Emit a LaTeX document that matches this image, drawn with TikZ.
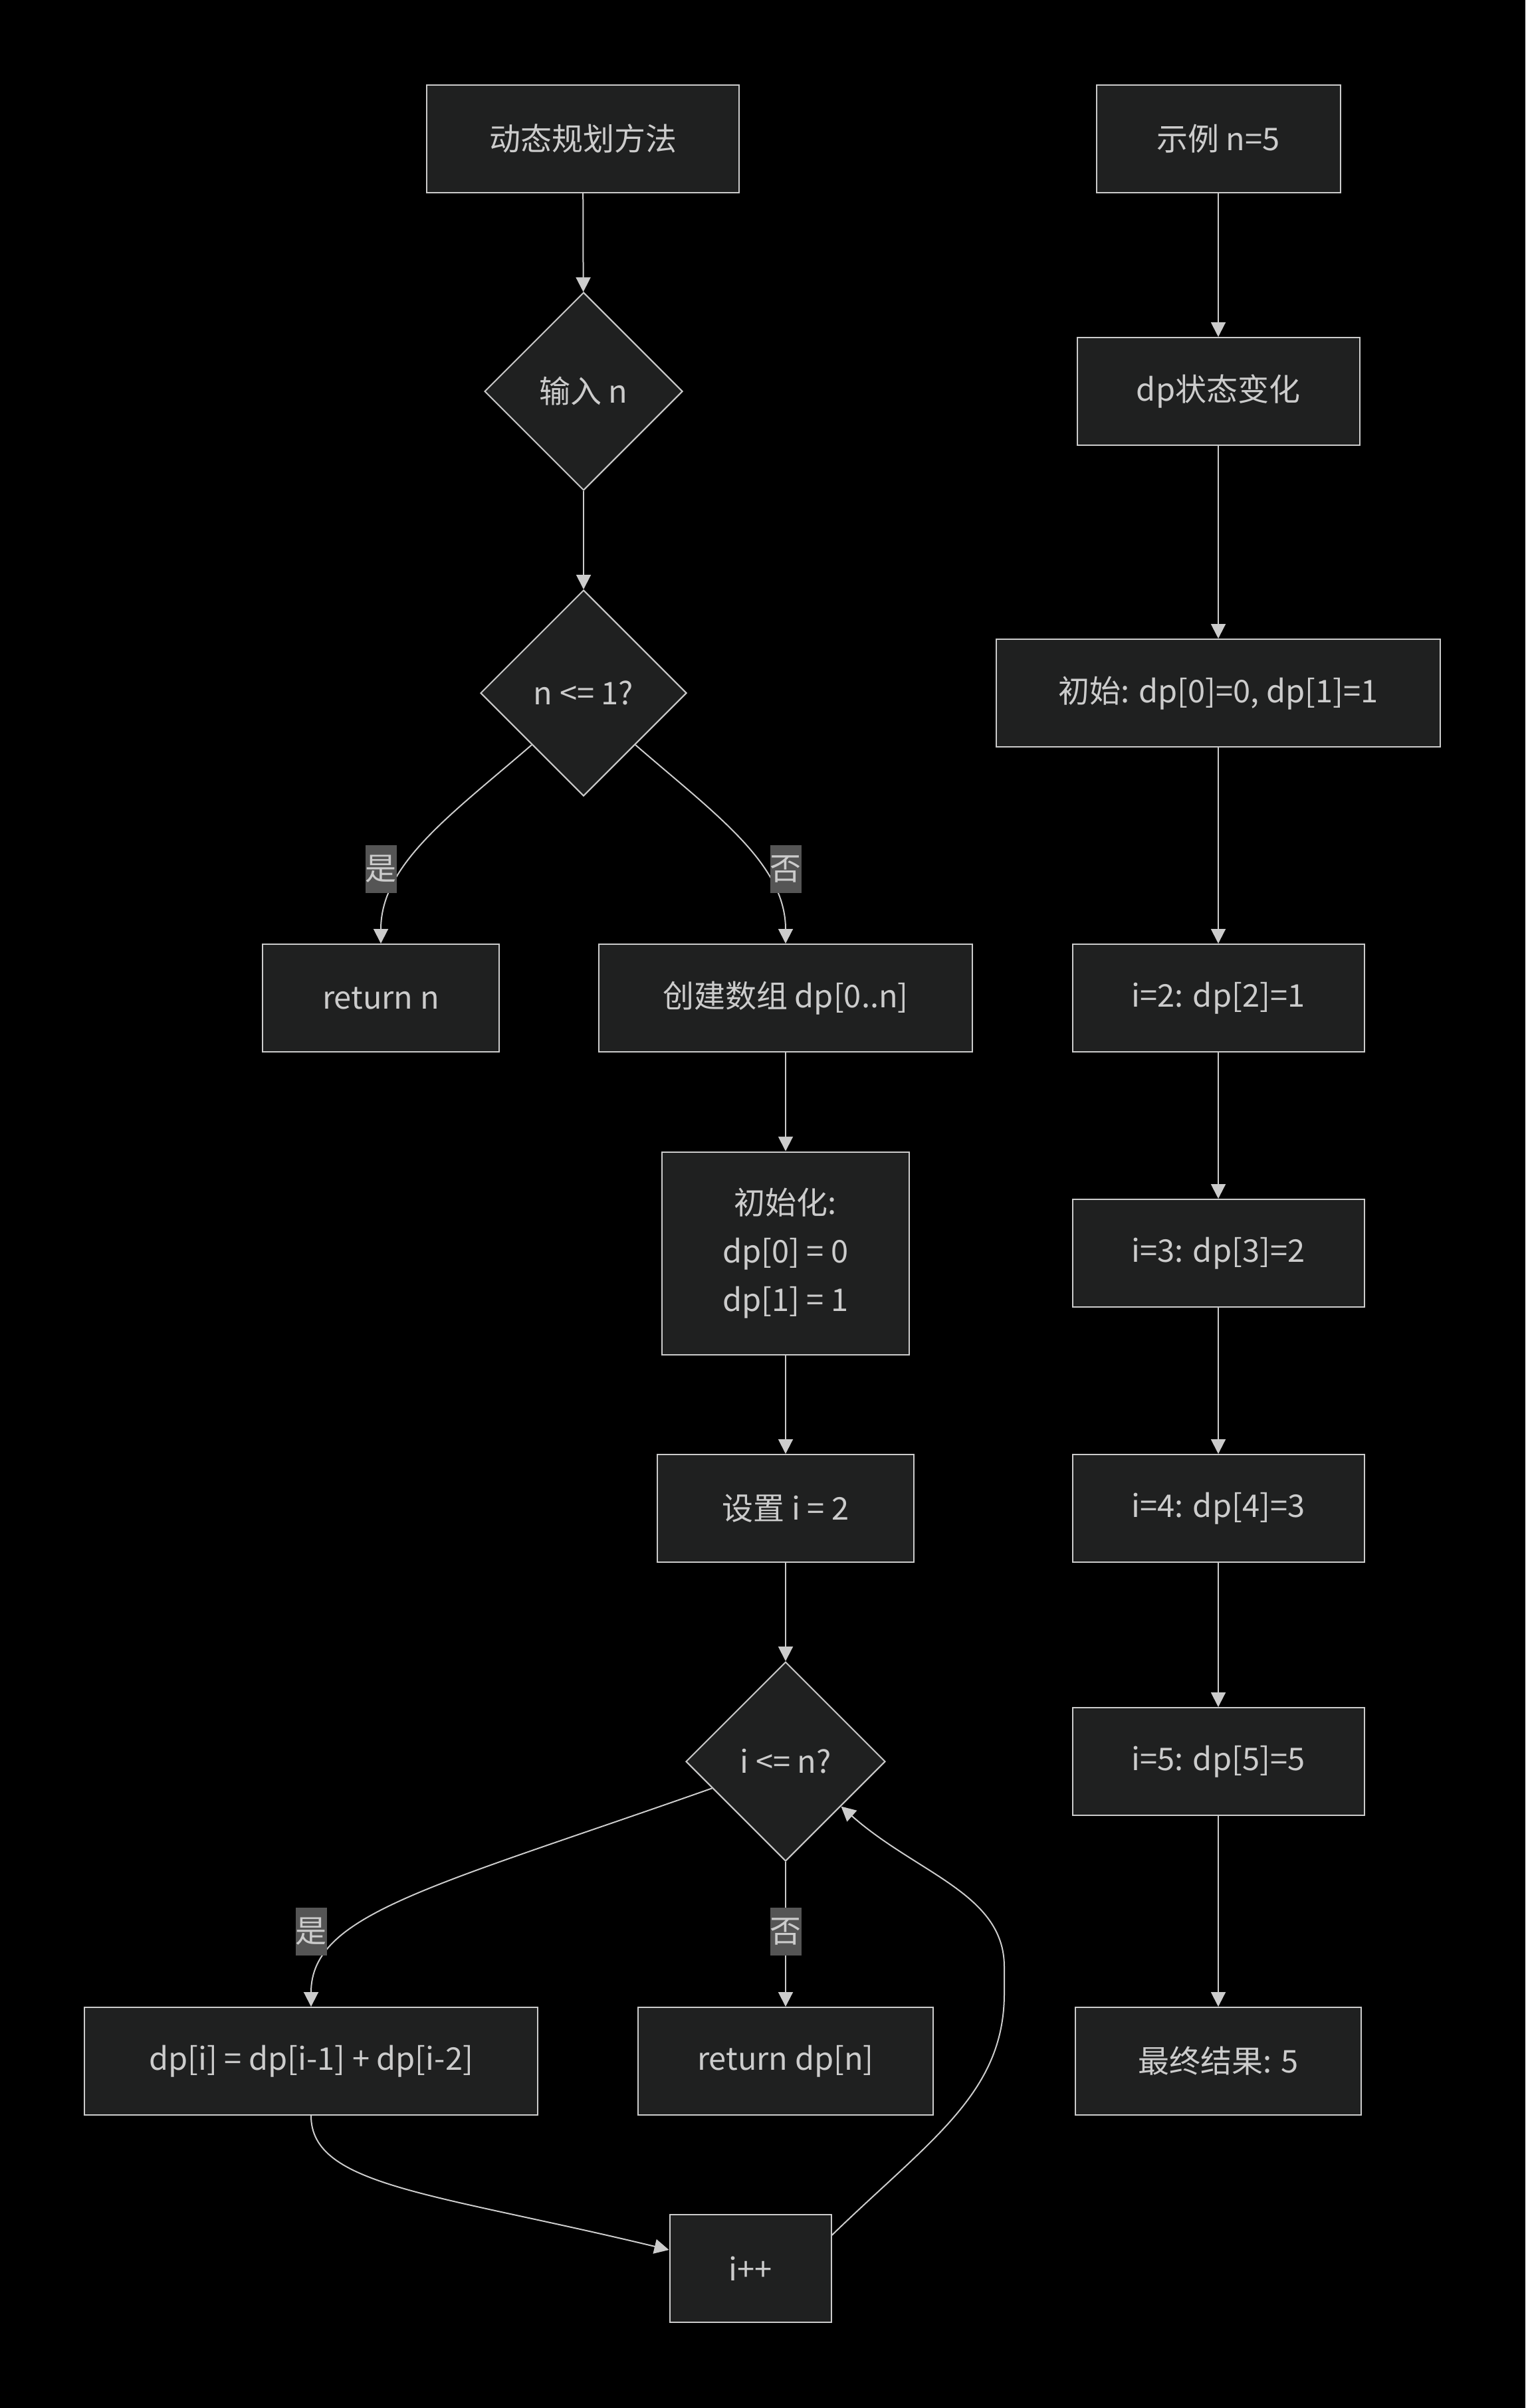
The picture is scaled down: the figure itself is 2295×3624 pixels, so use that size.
\documentclass[tikz,border=0pt]{standalone}
\usepackage{fontspec}
\setmainfont{Noto Sans CJK SC}
\usetikzlibrary{shapes.geometric,arrows.meta}
\definecolor{nodefill}{HTML}{1F2020}
\definecolor{linec}{HTML}{CCCCCC}
\definecolor{labfill}{HTML}{555555}
\begin{document}
\begin{tikzpicture}[x=1pt,y=-1pt,
 every node/.style={font=\fontsize{47}{73}\selectfont, text=linec},
 box/.style={draw=linec, fill=nodefill, line width=2pt, minimum height=162pt, inner sep=0pt, align=center},
 dia/.style={draw=linec, fill=nodefill, line width=2pt, shape=diamond, aspect=1, inner sep=0pt},
 edge/.style={draw=linec, line width=2pt, -{Triangle[length=22pt,width=22pt]}},
 lab/.style={fill=labfill, inner sep=0pt, minimum width=46pt, minimum height=72pt}
]
\fill[black] (0,0) rectangle (2295,3624);
\useasboundingbox (0,0) rectangle (2295,3624);

% left column
\node[box, minimum width=470pt] (A) at (877,209) {动态规划方法};
\node[dia, minimum width=298pt, minimum height=298pt] (B) at (878,589) {输入 n};
\node[dia, minimum width=310pt, minimum height=310pt] (C) at (878,1043) {n <= 1?};
\node[box, minimum width=356pt] (D) at (573,1502) {return n};
\node[box, minimum width=562pt] (E) at (1182,1502) {创建数组 dp[0..n]};
\node[box, minimum width=372pt, minimum height=305pt] (F) at (1182,1886) {初始化:\\dp[0] = 0\\dp[1] = 1};
\node[box, minimum width=386pt] (G) at (1182,2270) {设置 i = 2};
\node[dia, minimum width=300pt, minimum height=300pt] (H) at (1182,2651) {i <= n?};
\node[box, minimum width=682pt] (I) at (468,3102) {dp[i] = dp[i-1] + dp[i-2]};
\node[box, minimum width=444pt] (J) at (1182,3102) {return dp[n]};
\node[box, minimum width=243pt] (K) at (1129,3414) {i++};

% right column
\node[box, minimum width=367pt] (R1) at (1833,209) {示例 n=5};
\node[box, minimum width=425pt] (R2) at (1833,589) {dp状态变化};
\node[box, minimum width=668pt] (R3) at (1833,1043) {初始: dp[0]=0, dp[1]=1};
\node[box, minimum width=439pt] (R4) at (1833,1502) {i=2: dp[2]=1};
\node[box, minimum width=439pt] (R5) at (1833,1886) {i=3: dp[3]=2};
\node[box, minimum width=439pt] (R6) at (1833,2270) {i=4: dp[4]=3};
\node[box, minimum width=439pt] (R7) at (1833,2651) {i=5: dp[5]=5};
\node[box, minimum width=430pt] (R8) at (1833,3102) {最终结果: 5};

% edges left
\draw[edge] (A) -- (B);
\draw[edge] (B) -- (C);
\draw[edge] (C.south west) .. controls (680,1225) and (573,1300) .. (D.north);
\draw[edge] (C.south east) .. controls (1076,1225) and (1182,1300) .. (E.north);
\draw[edge] (E) -- (F);
\draw[edge] (F) -- (G);
\draw[edge] (G) -- (H);
\draw[edge] (H.200) .. controls (650,2840) and (468,2880) .. (I.north);
\draw[edge] (H) -- (J);
\draw[edge] (I.south) .. controls (468,3290) and (650,3300) .. ([yshift=28pt]K.west);
\draw[edge] ([yshift=50pt]K.east) .. controls (1400,3220) and (1511,3150) .. (1511,3000) -- (1511,2960) .. controls (1511,2850) and (1380,2820) .. (H.321);

% edges right
\draw[edge] (R1) -- (R2);
\draw[edge] (R2) -- (R3);
\draw[edge] (R3) -- (R4);
\draw[edge] (R4) -- (R5);
\draw[edge] (R5) -- (R6);
\draw[edge] (R6) -- (R7);
\draw[edge] (R7) -- (R8);

% edge labels
\node[lab] (l1) at (573,1308) {是};
\node[lab] (l2) at (1182,1308) {否};
\node[lab] (l3) at (468,2907) {是};
\node[lab] (l4) at (1182,2907) {否};
\end{tikzpicture}
\end{document}
